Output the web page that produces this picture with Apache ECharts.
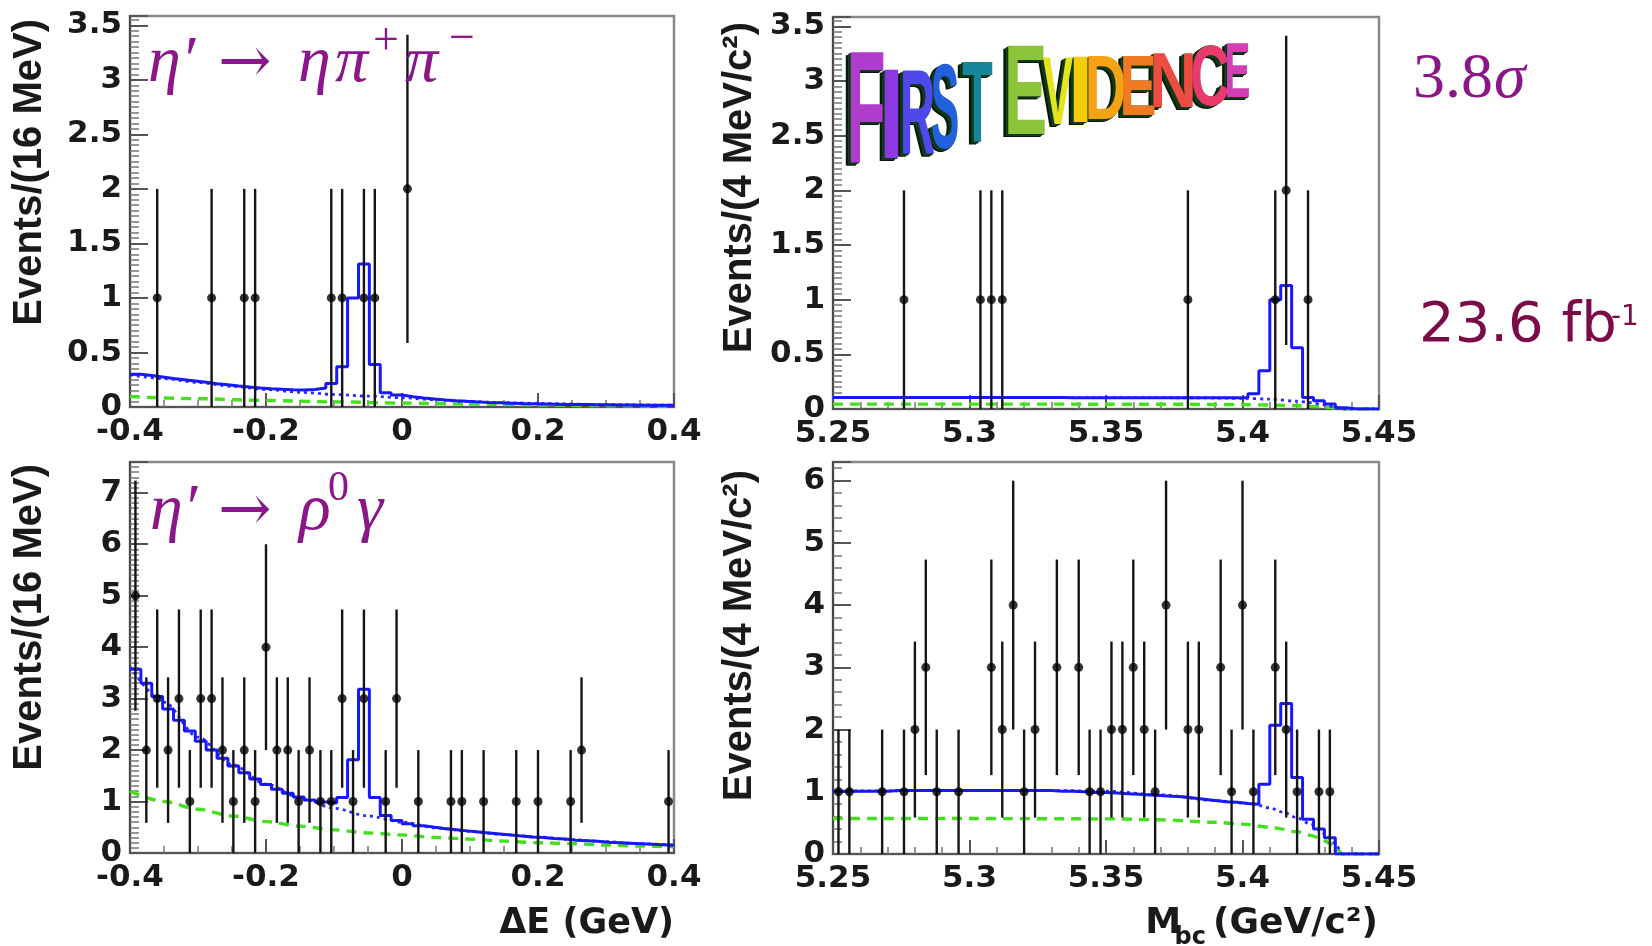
<!DOCTYPE html>
<html><head><meta charset="utf-8">
<script src="https://cdn.jsdelivr.net/npm/echarts@6/dist/echarts.min.js"></script>
<style>html,body{margin:0;padding:0;background:#fff}#c{width:1652px;height:946px}</style>
</head><body><div id="c"></div>
<script>
// ================= DATA =================
// binning of the fitted histograms
const deStart = -0.4, deWidth = 0.016;   // Delta E bins (16 MeV)
const mbStart = 5.25, mbWidth = 0.004;   // Mbc bins (4 MeV/c^2)

// --- top-left: eta' -> eta pi+ pi-, Delta E ---
const tlX = [-0.360, -0.280, -0.232, -0.216, -0.104, -0.088, -0.056, -0.040, 0.008];
const tlN = [1, 1, 1, 1, 1, 1, 1, 1, 2];
const tlTotal = [0.300,0.288,0.275,0.262,0.250,0.238,0.226,0.214,0.203,0.192,
                 0.183,0.175,0.168,0.162,0.158,0.156,0.160,0.175,0.215,0.37,
                 1.00,1.31,0.39,0.13,0.110,0.095,0.083,0.073,0.065,0.058,
                 0.052,0.047,0.042,0.038,0.035,0.032,0.030,0.028,0.026,0.024,
                 0.023,0.022,0.021,0.020,0.019,0.018,0.017,0.017,0.016,0.016];
const tlBkgX = [-0.4,-0.35,-0.3,-0.25,-0.2,-0.15,-0.1,-0.05,0,0.05,0.1,0.15,0.2,0.3,0.4];
const tlBkgY = [0.295,0.26,0.225,0.19,0.16,0.135,0.115,0.10,0.085,0.065,0.05,0.04,0.033,0.022,0.016];
const tlContX = [-0.4,-0.3,-0.2,-0.1,0,0.1,0.2,0.3,0.4];
const tlContY = [0.095,0.076,0.06,0.047,0.036,0.027,0.019,0.012,0.007];

// --- top-right: eta' -> eta pi+ pi-, Mbc ---
const trX = [5.276, 5.304, 5.308, 5.312, 5.380, 5.412, 5.416, 5.424];
const trN = [1, 1, 1, 1, 1, 1, 2, 1];
const trTotal = [0.105,0.105,0.105,0.105,0.105,0.105,0.105,0.105,0.105,0.105,
                 0.105,0.105,0.105,0.105,0.105,0.105,0.105,0.105,0.105,0.105,
                 0.105,0.104,0.104,0.104,0.104,0.104,0.104,0.104,0.104,0.104,
                 0.104,0.104,0.104,0.104,0.104,0.104,0.103,0.103,0.14,0.35,
                 1.00,1.13,0.56,0.105,0.075,0.045,0.012,0,0,0];
const trBkgX = [5.25,5.30,5.35,5.38,5.40,5.41,5.42,5.425,5.43,5.434,5.437,5.45];
const trBkgY = [0.105,0.105,0.104,0.103,0.098,0.09,0.072,0.058,0.038,0.018,0,0];
const trContX = [5.25,5.30,5.35,5.38,5.40,5.41,5.42,5.43,5.434,5.437,5.45];
const trContY = [0.045,0.045,0.044,0.043,0.04,0.036,0.03,0.018,0.01,0,0];

// --- bottom-left: eta' -> rho0 gamma, Delta E ---
const blX = [-0.392,-0.376,-0.360,-0.344,-0.328,-0.312,-0.296,-0.280,-0.264,-0.248,
             -0.232,-0.216,-0.200,-0.184,-0.168,-0.152,-0.136,-0.120,-0.104,-0.088,
             -0.072,-0.056,-0.024,-0.008,0.024,0.072,0.088,0.120,0.168,0.200,
             0.248,0.264,0.392];
const blN = [5,2,3,2,3,1,3,3,2,1,
             2,1,4,2,2,1,2,1,1,3,
             1,3,1,3,1,1,1,1,1,1,
             1,2,1];
const blTotal = [3.57,3.30,3.04,2.80,2.58,2.37,2.17,2.00,1.84,1.69,
                 1.56,1.44,1.33,1.24,1.16,1.09,1.03,0.99,0.97,1.08,
                 1.81,3.18,1.08,0.73,0.63,0.57,0.53,0.50,0.47,0.45,
                 0.43,0.41,0.39,0.37,0.35,0.33,0.31,0.30,0.28,0.27,
                 0.25,0.24,0.23,0.21,0.20,0.19,0.18,0.17,0.16,0.15];
const blBkgX = [-0.4,-0.35,-0.3,-0.25,-0.2,-0.15,-0.1,-0.05,0,0.05,0.1,0.15,0.2,0.25,0.3,0.35,0.4];
const blBkgY = [3.62,2.93,2.25,1.72,1.34,1.07,0.87,0.72,0.60,0.49,0.42,0.36,0.31,0.26,0.22,0.18,0.15];
const blContX = [-0.4,-0.35,-0.3,-0.25,-0.2,-0.15,-0.1,-0.05,0,0.05,0.1,0.15,0.2,0.25,0.3,0.35,0.4];
const blContY = [1.2,1.0,0.85,0.72,0.61,0.52,0.45,0.39,0.35,0.30,0.27,0.23,0.20,0.18,0.155,0.135,0.12];

// --- bottom-right: eta' -> rho0 gamma, Mbc ---
const brX = [5.252,5.256,5.268,5.276,5.280,5.284,5.288,5.296,5.308,5.312,
             5.316,5.320,5.324,5.332,5.340,5.344,5.348,5.352,5.356,5.360,
             5.364,5.368,5.372,5.380,5.384,5.392,5.396,5.400,5.404,5.412,
             5.416,5.420,5.428,5.432];
const brN = [1,1,1,1,2,3,1,1,3,2,
             4,1,2,3,3,1,1,2,2,3,
             2,1,4,2,2,3,1,4,1,3,
             2,1,1,1];
const brTotal = [1.01,1.01,1.01,1.01,1.01,1.02,1.02,1.02,1.02,1.02,
                 1.02,1.02,1.02,1.02,1.02,1.02,1.02,1.02,1.02,1.02,
                 1.01,1.01,1.00,0.99,0.99,0.98,0.97,0.96,0.95,0.94,
                 0.93,0.92,0.90,0.88,0.86,0.84,0.83,0.81,0.80,1.12,
                 2.07,2.42,1.23,0.56,0.40,0.26,0,0,0,0];
const brBkgX = [5.25,5.30,5.33,5.35,5.37,5.39,5.40,5.405,5.41,5.415,5.42,5.425,5.43,5.434,5.4365,5.45];
const brBkgY = [1.01,1.02,1.02,1.01,0.95,0.86,0.82,0.79,0.74,0.67,0.58,0.48,0.33,0.17,0,0];
const brContX = [5.25,5.30,5.35,5.37,5.39,5.40,5.41,5.42,5.425,5.43,5.434,5.4365,5.45];
const brContY = [0.57,0.57,0.565,0.55,0.51,0.48,0.43,0.36,0.30,0.21,0.12,0,0];

// axis titles
const yTitleDE = 'Events/(16 MeV)';
const yTitleMB = 'Events/(4 MeV/c²)';

// ================= BUILD =================
const layouts = [
  {left:130, top:16, width:544, height:391},
  {left:833, top:17, width:546, height:392},
  {left:130, top:462, width:544, height:391},
  {left:833, top:462, width:546, height:392}
];
const xSpecs = [
  {min:-0.4, max:0.4, interval:0.2, minor:4},
  {min:5.25, max:5.45, interval:0.05, minor:5},
  {min:-0.4, max:0.4, interval:0.2, minor:4},
  {min:5.25, max:5.45, interval:0.05, minor:5}
];
const ySpecs = [
  {max:3.585, interval:0.5, minor:10},
  {max:3.585, interval:0.5, minor:10},
  {max:7.598, interval:1, minor:10},
  {max:6.3, interval:1, minor:5}
];
const panelData = [
  {x:tlX, n:tlN, tot:tlTotal, start:deStart, w:deWidth, bx:tlBkgX, by:tlBkgY, cx:tlContX, cy:tlContY},
  {x:trX, n:trN, tot:trTotal, start:mbStart, w:mbWidth, bx:trBkgX, by:trBkgY, cx:trContX, cy:trContY},
  {x:blX, n:blN, tot:blTotal, start:deStart, w:deWidth, bx:blBkgX, by:blBkgY, cx:blContX, cy:blContY},
  {x:brX, n:brN, tot:brTotal, start:mbStart, w:mbWidth, bx:brBkgX, by:brBkgY, cx:brContX, cy:brContY}
];

function pairs(xs, ys){ return xs.map((x,i)=>[x, ys[i]]); }
function stepData(start, w, vals){
  const d = vals.map((v,i)=>[start + i*w, v]);
  d.push([start + vals.length*w, vals[vals.length-1]]);
  return d;
}
function errData(xs, ns){ return xs.map((x,i)=>[x, ns[i], ns[i]-Math.sqrt(ns[i]), ns[i]+Math.sqrt(ns[i])]); }

const labelFont = {fontFamily:'DejaVu Sans', fontWeight:'bold', fontSize:31, color:'#1a1a1a'};
const grids = [], xAxes = [], yAxes = [], series = [];
layouts.forEach((L,k)=>{
  grids.push(Object.assign({show:true, borderColor:'#8a8a8a', borderWidth:2.5, backgroundColor:'rgba(0,0,0,0)'}, L));
  const xs = xSpecs[k], ys = ySpecs[k];
  xAxes.push({
    gridIndex:k, type:'value', min:xs.min, max:xs.max, interval:xs.interval,
    axisLine:{show:true, onZero:false, lineStyle:{color:'#555', width:2}},
    axisTick:{show:true, inside:true, length:14, lineStyle:{color:'#555', width:2}},
    minorTick:{show:true, splitNumber:xs.minor, length:7, lineStyle:{color:'#777', width:1.5}},
    splitLine:{show:false},
    axisLabel:Object.assign({margin:9, formatter:v=>String(+v.toFixed(2))}, labelFont)
  });
  yAxes.push({
    gridIndex:k, type:'value', min:0, max:ys.max, interval:ys.interval,
    axisLine:{show:true, onZero:false, lineStyle:{color:'#444', width:2}},
    axisTick:{show:true, inside:true, length:18, lineStyle:{color:'#555', width:2}},
    minorTick:{show:true, splitNumber:ys.minor, length:9, lineStyle:{color:'#777', width:1.5}},
    splitLine:{show:false},
    axisLabel:Object.assign({margin:8, formatter:v=>{
      const r = v/ys.interval; return Math.abs(r-Math.round(r))<1e-6 ? String(+v.toFixed(2)) : '';
    }}, labelFont)
  });
  const P = panelData[k];
  series.push({type:'line', xAxisIndex:k, yAxisIndex:k, data:pairs(P.cx,P.cy), smooth:0.3, smoothMonotone:'x',
    symbol:'none', z:2, silent:true, lineStyle:{color:'#45e01c', width:3.4, type:[10,7]}});
  series.push({type:'line', xAxisIndex:k, yAxisIndex:k, data:pairs(P.bx,P.by), smooth:0.3, smoothMonotone:'x',
    symbol:'none', z:3, silent:true, lineStyle:{color:'#2a2aff', width:2.8, type:[3,4]}});
  series.push({type:'line', xAxisIndex:k, yAxisIndex:k, data:stepData(P.start,P.w,P.tot), step:'end',
    symbol:'none', z:4, silent:true, lineStyle:{color:'#1818ff', width:3}});
  series.push({type:'custom', xAxisIndex:k, yAxisIndex:k, data:errData(P.x,P.n), z:5, silent:true,
    encode:{x:0, y:[2,3]},
    renderItem:(params, api)=>{
      const x = api.value(0), lo = api.value(2), hi = api.value(3);
      const a = api.coord([x, lo]), b = api.coord([x, hi]);
      return {type:'line', shape:{x1:a[0], y1:a[1], x2:b[0], y2:b[1]}, style:{stroke:'#151515', lineWidth:2.4}};
    }});
  series.push({type:'scatter', xAxisIndex:k, yAxisIndex:k, data:pairs(P.x,P.n), symbol:'circle', symbolSize:9,
    z:6, silent:true, itemStyle:{color:'#000'}});
});

// ---------- text / graphic ----------
const g = [];
function t(x, base, text, fs, o){
  o = o || {};
  g.push({type:'text', x:x, y:base - 0.34*fs, z:100, silent:true,
    style:{text:text, fontSize:fs, fontFamily:o.family||'Liberation Serif', fontStyle:o.style||'normal',
      fontWeight:o.weight||'normal', fill:o.fill||'#8a168a', align:o.align||'left', verticalAlign:'middle'}});
}
function ytitle(x, yTop, text){
  g.push({type:'text', x:x, y:yTop, rotation:Math.PI/2, z:100, silent:true,
    style:{text:text, fontSize:40, fontFamily:'Liberation Sans', fontWeight:'bold', fill:'#1a1a1a', align:'right', verticalAlign:'middle'}});
}
ytitle(30, 19, yTitleDE);
ytitle(30, 464, yTitleDE);
ytitle(740, 22, yTitleMB);
ytitle(740, 470, yTitleMB);
// x titles
const xt = {family:'DejaVu Sans', weight:'bold', fill:'#1a1a1a'};
t(674, 936, 'ΔE (GeV)', 35, Object.assign({align:'right'}, xt));
t(1378, 936, '(GeV/c²)', 36, Object.assign({align:'right'}, xt));
t(1206, 946, 'bc', 24, Object.assign({align:'right'}, xt));
t(1181, 936, 'M', 36, Object.assign({align:'right'}, xt));

// decay labels
const it = {style:'italic'};
const ar = {family:'DejaVu Serif'};
t(148, 86, 'η′', 66, it);
t(218, 87, '→', 64, ar);
t(298, 86, 'η', 66, it);
t(335, 86, 'π', 66, it);
t(373, 58, '+', 46);
t(405, 86, 'π', 66, it);
t(449, 56, '−', 46);

t(150, 534, 'η′', 66, it);
t(218, 535, '→', 64, ar);
t(299, 534, 'ρ', 66, it);
t(328, 503, '0', 42);
t(357, 534, 'γ', 66, it);

t(1413, 102, '3.8', 64);
t(1494, 102, 'σ', 64, it);
t(1419, 345, '23.6 fb', 56, {family:'DejaVu Sans', fill:'#7a0a48'});
t(1611, 327, '-1', 28, {family:'DejaVu Sans', fill:'#7a0a48'});

// "FIRST EVIDENCE" banner: [char, left, right, top, bottom, colour, ink width (em)]
const banner = [
  ['F', 850, 882, 60, 172, '#b03ccc', 0.50],
  ['I', 885, 898, 77, 166, '#8a3ae0', 0.14],
  ['R', 902, 933, 77, 162, '#4f48ea', 0.63],
  ['S', 933, 957, 71, 156, '#2360dc', 0.56],
  ['T', 963, 992, 68, 148, '#16879a', 0.58],
  ['E', 1008, 1043, 53, 142, '#8cc43a', 0.54],
  ['V', 1043, 1073, 62, 130, '#e4e41c', 0.66],
  ['I', 1073, 1088, 62, 128, '#f4cc0a', 0.14],
  ['D', 1088, 1123, 62, 125, '#f5a214', 0.60],
  ['E', 1123, 1153, 60, 120, '#f07a22', 0.54],
  ['N', 1153, 1193, 57, 112, '#ec4c42', 0.60],
  ['C', 1193, 1227, 50, 110, '#e83a6c', 0.62],
  ['E', 1227, 1248, 48, 102, '#d23eb6', 0.54]
];
const depth = [[-5,3],[-4,2.5],[-3,2],[-2,1.3],[-1,0.6]];
banner.forEach(b=>{
  const h = b[4]-b[3], w = b[2]-b[1];
  const fs = h/0.70;
  const sx = Math.min(1.0, w/(b[6]*fs));
  const cx = (b[1]+b[2])/2, cy = (b[3]+b[4])/2 + 0.012*fs;
  depth.forEach((d,j)=>{
    g.push({type:'text', x:cx+d[0], y:cy+d[1], scaleX:sx, z:105+j, silent:true,
      style:{text:b[0], fontSize:fs, fontFamily:'Liberation Sans', fontWeight:'bold', fill: j<2 ? '#061806' : '#103a18',
        align:'center', verticalAlign:'middle'}});
  });
  g.push({type:'text', x:cx, y:cy, scaleX:sx, z:115, silent:true,
    style:{text:b[0], fontSize:fs, fontFamily:'Liberation Sans', fontWeight:'bold', fill:b[5],
      align:'center', verticalAlign:'middle'}});
});

const chart = echarts.init(document.getElementById('c'), null, {renderer:'canvas', width:1652, height:946});
chart.setOption({
  animation:false, backgroundColor:'#ffffff',
  grid:grids, xAxis:xAxes, yAxis:yAxes, series:series, graphic:g
});
</script></body></html>
